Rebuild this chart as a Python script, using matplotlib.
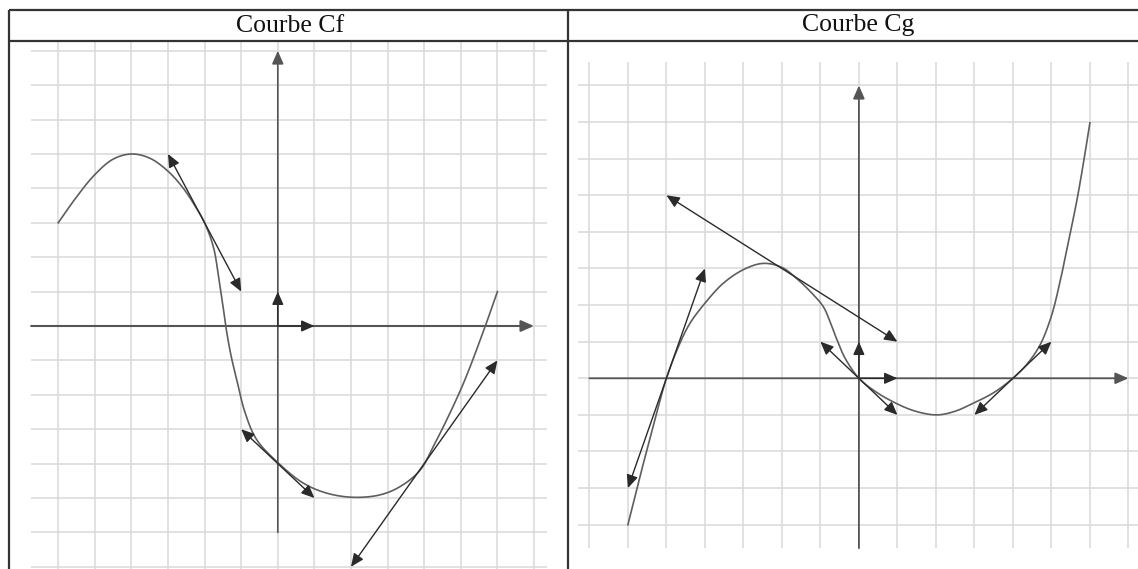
import numpy as np
import matplotlib
matplotlib.use('Agg')
import matplotlib.pyplot as plt


# curve Cf, points (grid units)
cfX = [-6, -5.5, -5, -4.5, -4, -3.5, -3, -2.58, -2.22, -2, -1.76, -1.63, -1.5, -1.4,
       -1.27, -1.12, -0.9, -0.58, 0, 0.7, 1.34, 2.06, 2.79, 3.34, 3.89, 4.25, 4.7,
       5.11, 5.67, 6]
cfY = [3, 3.75, 4.4, 4.85, 5, 4.88, 4.5, 4.0, 3.42, 3.0, 2.3, 1.53, 0.6, -0.15,
       -0.9, -1.57, -2.5, -3.3, -3.97, -4.57, -4.86, -4.98, -4.91, -4.67, -4.19, -3.5, -2.54,
       -1.57, 0, 1.0]

# tangents drawn on Cf : contact point, slope, half length along x
cfTanX = [-2, 0, 4]
cfTanY = [3, -4, -4]
cfTanSlope = [-2, -1, 1.5]
cfTanHalf = [1, 1, 2]

# curve Cg
cgX = [-6, -5.69, -5.34, -5, -4.69, -4.39, -4, -3.52, -2.98, -2.48, -2.0, -1.62, -1.18,
       -0.92, -0.75, -0.58, -0.36, 0, 0.37, 0.81, 1.41, 2.02, 2.5, 2.97, 3.49, 4, 4.36, 4.7,
       5.0, 5.22, 5.44, 5.66, 5.83, 6]
cgY = [-4, -2.7, -1.3, 0, 0.86, 1.5, 2.05, 2.6, 2.98, 3.14, 3.03, 2.73, 2.28,
       1.95, 1.55, 1.08, 0.55, 0, -0.32, -0.6, -0.88, -1.0, -0.9, -0.68, -0.4, 0, 0.38, 0.9,
       1.7, 2.62, 3.72, 4.85, 5.87, 6.98]

cgTanX = [-5, -2, 0, 4]
cgTanY = [0, 3, 0, 0]
cgTanSlope = [3, -2 / 3, -1, 1]
cgTanHalf = [1, 3, 1, 1]

titles = ['Courbe Cf', 'Courbe Cg']

W, H = 1138, 569
gridColor = '#d8d8d8'
axisColor = '#555555'
curveColor = '#5e5e5e'
arrowColor = '#2a2a2a'


def smooth(xs, ys, unit, n=14):
    # centripetal catmull-rom through the read points, done in pixel space
    p = np.column_stack([np.asarray(xs) * unit[0], np.asarray(ys) * unit[1]])
    p = np.vstack([2 * p[0] - p[1], p, 2 * p[-1] - p[-2]])
    d = np.sqrt(np.hypot(*np.diff(p, axis=0).T))
    t = np.concatenate([[0], np.cumsum(d)])
    out = []
    for i in range(1, len(p) - 2):
        p0, p1, p2, p3 = p[i - 1], p[i], p[i + 1], p[i + 2]
        t0, t1, t2, t3 = t[i - 1], t[i], t[i + 1], t[i + 2]
        tt = np.linspace(t1, t2, n, endpoint=False)[:, None]
        a1 = (t1 - tt) / (t1 - t0) * p0 + (tt - t0) / (t1 - t0) * p1
        a2 = (t2 - tt) / (t2 - t1) * p1 + (tt - t1) / (t2 - t1) * p2
        a3 = (t3 - tt) / (t3 - t2) * p2 + (tt - t2) / (t3 - t2) * p3
        b1 = (t2 - tt) / (t2 - t0) * a1 + (tt - t0) / (t2 - t0) * a2
        b2 = (t3 - tt) / (t3 - t1) * a2 + (tt - t1) / (t3 - t1) * a3
        out.append((t2 - tt) / (t2 - t1) * b1 + (tt - t1) / (t2 - t1) * b2)
    out.append(p[-2][None, :])
    out = np.vstack(out)
    return out[:, 0] / unit[0], out[:, 1] / unit[1]


def arrow(ax, start, end, style, color=arrowColor, lw=1.0, z=5):
    ax.annotate('', xy=end, xytext=start,
                arrowprops=dict(arrowstyle=style + ',head_length=0.75,head_width=0.33',
                                color=color, lw=lw, shrinkA=0, shrinkB=0,
                                mutation_scale=10.5),
                zorder=z)


def makePanel(box, origin, unit):
    # box = (left, top, right, bottom) in pixels, origin in pixels, unit = px per grid step
    left, top, right, bottom = box
    ax = fig.add_axes([left / W, 1 - bottom / H, (right - left) / W, (bottom - top) / H])
    ax.set_xlim((left - origin[0]) / unit[0], (right - origin[0]) / unit[0])
    ax.set_ylim((origin[1] - bottom) / unit[1], (origin[1] - top) / unit[1])
    ax.axis('off')
    return ax


def drawTangents(ax, tx, ty, slopes, halves):
    for x0, y0, m, h in zip(tx, ty, slopes, halves):
        arrow(ax, (x0 - h, y0 - m * h), (x0 + h, y0 + m * h), '<|-|>')


fig = plt.figure(figsize=(W / 100, H / 100), dpi=100)

# ---- left panel, Cf
unitF = (36.6, 34.4)
axF = makePanel((10, 42, 567, 569), (277.8, 326), unitF)
y0, y1 = axF.get_ylim()
axF.vlines(np.arange(-6, 8), y0, y1, color=gridColor, lw=1.1, zorder=1)
axF.hlines(np.arange(-7, 9), -6.74, 7.36, color=gridColor, lw=1.1, zorder=1)
arrow(axF, (-6.74, 0), (7, 0), '-|>', color=axisColor, lw=1.5, z=3)
arrow(axF, (0, -6), (0, 8), '-|>', color=axisColor, lw=1.2, z=3)
arrow(axF, (0, 0), (1, 0), '-|>', lw=1.0, z=4)
arrow(axF, (0, 0), (0, 1), '-|>', lw=1.0, z=4)
sx, sy = smooth(cfX, cfY, unitF)
axF.plot(sx, sy, color=curveColor, lw=1.2, zorder=4)
drawTangents(axF, cfTanX, cfTanY, cfTanSlope, cfTanHalf)

# ---- right panel, Cg
unitG = (38.5, 36.6)
axG = makePanel((570, 42, 1138, 569), (858.9, 378.3), unitG)
axG.vlines(np.arange(-7, 8), -4.64, 8.64, color=gridColor, lw=1.1, zorder=1)
axG.hlines(np.arange(-4, 9), -7.3, 7.4, color=gridColor, lw=1.1, zorder=1)
arrow(axG, (-7, 0), (7, 0), '-|>', color=axisColor, lw=1.3, z=3)
arrow(axG, (0, -4.64), (0, 8), '-|>', color=axisColor, lw=1.3, z=3)
arrow(axG, (0, 0), (1, 0), '-|>', lw=1.0, z=4)
arrow(axG, (0, 0), (0, 1), '-|>', lw=1.0, z=4)
sx, sy = smooth(cgX, cgY, unitG)
axG.plot(sx, sy, color=curveColor, lw=1.2, zorder=4)
drawTangents(axG, cgTanX, cgTanY, cgTanSlope, cgTanHalf)

# ---- table frame and headers, in pixel coordinates
frame = fig.add_axes([0, 0, 1, 1])
frame.set_xlim(0, W)
frame.set_ylim(H, 0)
frame.axis('off')
frame.patch.set_alpha(0)
lineKw = dict(color='#333333', lw=1.6, solid_capstyle='butt')
frame.plot([8.7, W], [10, 10], **lineKw)
frame.plot([8.7, W], [40.7, 40.7], **lineKw)
frame.plot([8.7, 8.7], [10, H], **lineKw)
frame.plot([568, 568], [10, H], **lineKw)
frame.text(290, 26, titles[0], ha='center', va='center', fontsize=18.5,
           family='Liberation Serif', color='#111111')
frame.text(858, 25, titles[1], ha='center', va='center', fontsize=18.5,
           family='Liberation Serif', color='#111111')

fig.savefig('out.png', dpi=100)
